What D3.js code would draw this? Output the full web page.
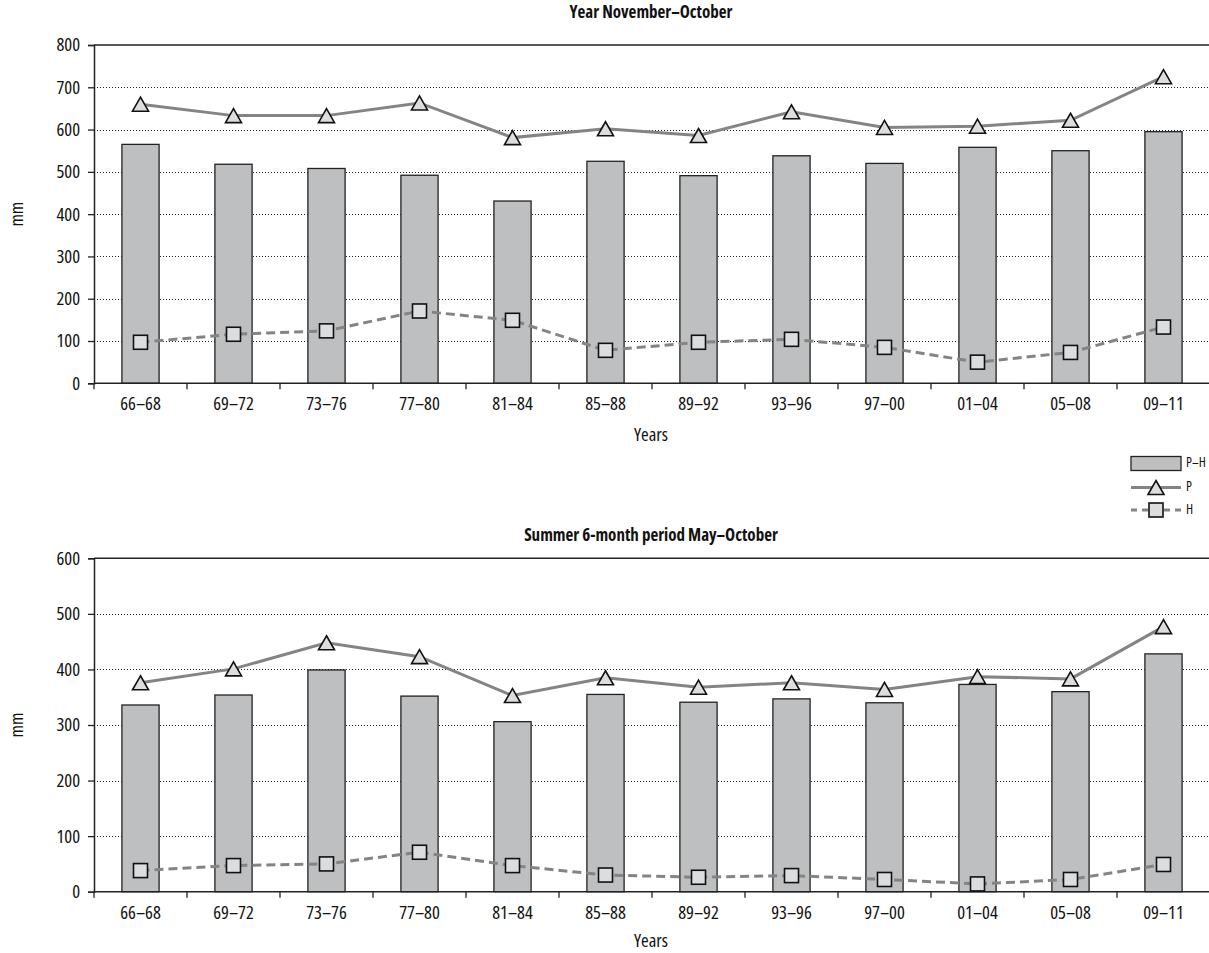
<!DOCTYPE html>
<html>
<head>
<meta charset="utf-8">
<script src="https://cdn.jsdelivr.net/npm/d3@7"></script>
<style>
  html, body { margin: 0; padding: 0; background: #fff; }
  svg { display: block; }
  text { font-family: "Open Sans", "DejaVu Sans", sans-serif; fill: #111; font-stretch: 87.5%; }
</style>
</head>
<body>
<svg id="chart" width="1209" height="953"></svg>
<script>
const categories = ["66–68","69–72","73–76","77–80","81–84","85–88","89–92","93–96","97–00","01–04","05–08","09–11"];
const yearPH = [565,518,508,492,431,525,491,538,520,558,550,595];
const yearP  = [660,633,633,663,581,602,586,642,605,608,622,725];
const yearH  = [97,116,124,171,149,78,97,104,85,50,73,133];
const summerPH = [336,354,399,352,306,355,341,347,340,373,360,428];
const summerP  = [376,401,448,423,353,385,368,376,364,387,383,477];
const summerH  = [38,47,50,71,47,30,26,29,22,14,22,49];
const yearTicks = [0,100,200,300,400,500,600,700,800];
const summerTicks = [0,100,200,300,400,500,600];
const seriesNames = ["P–H","P","H"];
const titles = ["Year November–October","Summer 6-month period May–October"];
const yLabel = "mm";
const xLabel = "Years";

const svg = d3.select("#chart");
const left = 94, right = 1210;
const barFill = "#bebfc1", markerFill = "#dcdddf", lineColor = "#848484";
const triPath = "M0,-7 L8,7 L-8,7 Z";
const fs = 18.5;

function panel(opts) {
  const g = svg.append("g");
  const x = d3.scaleBand().domain(categories).range([left, right]).paddingInner(0.6).paddingOuter(0.3);
  const y = d3.scaleLinear().domain([0, opts.max]).range([opts.bottom, opts.top]);
  const cx = d => x(d) + x.bandwidth() / 2;

  g.append("text").attr("x", 651).attr("y", opts.titleY).attr("text-anchor", "middle")
    .attr("font-size", 17).attr("font-weight", "bold").attr("dominant-baseline", "middle")
    .text(opts.title);

  g.append("g").selectAll("line").data(opts.ticks.filter(t => t > 0 && t < opts.max)).join("line")
    .attr("x1", left).attr("x2", 1209).attr("y1", d => Math.round(y(d)) + 0.5).attr("y2", d => Math.round(y(d)) + 0.5)
    .attr("stroke", "#222").attr("stroke-width", 1).attr("stroke-dasharray", "1,2");
  g.append("line").attr("x1", left).attr("x2", 1209).attr("y1", y(opts.max)).attr("y2", y(opts.max))
    .attr("stroke", "#222").attr("stroke-width", 1.5);

  g.append("g").selectAll("rect").data(opts.ph).join("rect")
    .attr("x", (d, i) => x(categories[i])).attr("width", x.bandwidth())
    .attr("y", d => y(d)).attr("height", d => y(0) - y(d))
    .attr("fill", barFill).attr("stroke", "#222").attr("stroke-width", 1.3);

  const ya = g.append("g").attr("transform", `translate(${left},0)`)
    .call(d3.axisLeft(y).tickValues(opts.ticks).tickSize(6).tickPadding(8));
  ya.select(".domain").attr("stroke", "#222").attr("stroke-width", 1.5);
  ya.selectAll(".tick line").attr("stroke", "#222").attr("stroke-width", 1.3);
  ya.selectAll("text").attr("font-size", fs).attr("fill", "#111").style("font-family", "Open Sans").style("font-stretch", "87.5%");

  const xa = g.append("g").attr("transform", `translate(0,${opts.bottom})`)
    .call(d3.axisBottom(x).tickSize(0).tickPadding(14));
  xa.select(".domain").remove();
  xa.selectAll("text").attr("font-size", fs).attr("fill", "#111").style("font-family", "Open Sans").style("font-stretch", "87.5%");
  g.append("line").attr("x1", left).attr("x2", 1209).attr("y1", opts.bottom).attr("y2", opts.bottom)
    .attr("stroke", "#222").attr("stroke-width", 1.5);
  const bounds = d3.range(categories.length + 1).map(i => left + i * x.step());
  g.append("g").selectAll("line").data(bounds).join("line")
    .attr("x1", d => d).attr("x2", d => d).attr("y1", opts.bottom).attr("y2", opts.bottom + 6)
    .attr("stroke", "#222").attr("stroke-width", 1.3);

  g.append("text").attr("transform", `translate(18,${(opts.top + opts.bottom) / 2}) rotate(-90)`)
    .attr("text-anchor", "middle").attr("dominant-baseline", "middle").attr("font-size", fs).text(yLabel);
  g.append("text").attr("x", 651).attr("y", opts.bottom + opts.xLabelGap).attr("text-anchor", "middle")
    .attr("dominant-baseline", "middle").attr("font-size", fs).text(xLabel);

  const line = d3.line().x((d, i) => cx(categories[i])).y(d => y(d));
  g.append("path").datum(opts.p).attr("d", line).attr("fill", "none")
    .attr("stroke", lineColor).attr("stroke-width", 3);
  g.append("path").datum(opts.h).attr("d", line).attr("fill", "none")
    .attr("stroke", lineColor).attr("stroke-width", 3).attr("stroke-dasharray", "9,5");

  g.append("g").selectAll("path").data(opts.p).join("path")
    .attr("d", triPath).attr("transform", (d, i) => `translate(${cx(categories[i])},${y(d)})`)
    .attr("fill", markerFill).attr("stroke", "#111").attr("stroke-width", 1.6);
  g.append("g").selectAll("rect").data(opts.h).join("rect")
    .attr("x", (d, i) => cx(categories[i]) - 7).attr("y", d => y(d) - 7)
    .attr("width", 14).attr("height", 14)
    .attr("fill", markerFill).attr("stroke", "#111").attr("stroke-width", 1.6);
}

panel({ title: titles[0], titleY: 13, top: 45, bottom: 383.3, max: 800, ticks: yearTicks, ph: yearPH, p: yearP, h: yearH, xLabelGap: 53 });
panel({ title: titles[1], titleY: 536, top: 558.3, bottom: 891.7, max: 600, ticks: summerTicks, ph: summerPH, p: summerP, h: summerH, xLabelGap: 50 });

const lg = svg.append("g");
const lx0 = 1131, lx1 = 1181, lcx = 1156;
lg.append("rect").attr("x", lx0).attr("y", 456.5).attr("width", lx1 - lx0).attr("height", 14)
  .attr("fill", barFill).attr("stroke", "#222").attr("stroke-width", 1.3);
lg.append("line").attr("x1", lx0).attr("x2", lx1).attr("y1", 487.5).attr("y2", 487.5)
  .attr("stroke", lineColor).attr("stroke-width", 3);
lg.append("path").attr("d", triPath).attr("transform", `translate(${lcx},487.5)`)
  .attr("fill", markerFill).attr("stroke", "#111").attr("stroke-width", 1.6);
lg.append("line").attr("x1", lx0).attr("x2", lx1).attr("y1", 510).attr("y2", 510)
  .attr("stroke", lineColor).attr("stroke-width", 3).attr("stroke-dasharray", "6,5");
lg.append("rect").attr("x", lcx - 7).attr("y", 503).attr("width", 14).attr("height", 14)
  .attr("fill", markerFill).attr("stroke", "#111").attr("stroke-width", 1.6);
[463.5, 487.5, 510].forEach((yy, i) => {
  lg.append("text").attr("x", 1186).attr("y", yy).attr("dominant-baseline", "middle")
    .attr("font-size", 13.5).text(seriesNames[i]);
});
</script>
</body>
</html>
